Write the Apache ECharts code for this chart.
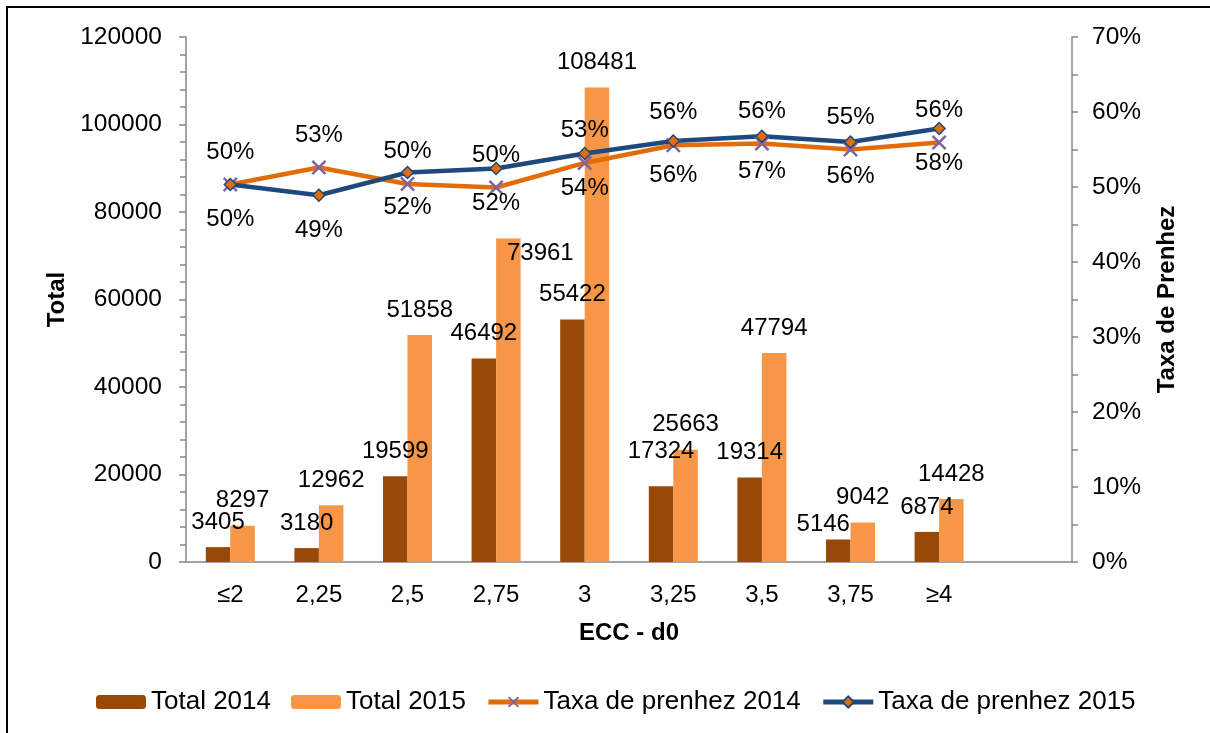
<!DOCTYPE html>
<html>
<head>
<meta charset="utf-8">
<title>ECC - d0</title>
<script src="https://cdn.jsdelivr.net/npm/echarts@6/dist/echarts.min.js"></script>
<style>
  html, body { margin: 0; padding: 0; background: #fff; }
  #main { width: 1210px; height: 733px; }
</style>
</head>
<body>
<div id="main"></div>
<script>
// categorias (a última fica vazia, como no gráfico original)
const categories = ['≤2', '2,25', '2,5', '2,75', '3', '3,25', '3,5', '3,75', '≥4', ''];
const total2014 = [3405, 3180, 19599, 46492, 55422, 17324, 19314, 5146, 6874];
const total2015 = [8297, 12962, 51858, 73961, 108481, 25663, 47794, 9042, 14428];
const taxa2014 = [0.5033, 0.526, 0.504, 0.4993, 0.5321, 0.5557, 0.5579, 0.5500, 0.5593];
const taxa2015 = [0.5033, 0.4890, 0.5193, 0.5246, 0.5446, 0.5614, 0.5677, 0.5600, 0.5780];
const leftTicks = [0, 120000, 20000];
const rightTicks = [0, 0.7, 0.1];

// deslocamentos manuais de alguns rótulos (como no original)
const barLabelNudge = { '0-5': [0, -10], '0-7': [-15, 10], '1-3': [32, 40] };

const font = 'Liberation Sans, Arial, sans-serif';
const axisGray = '#868686';

function barData(values, s) {
  return values.map((v, i) => {
    const n = barLabelNudge[s + '-' + i];
    return n ? { value: v, label: { offset: n } } : v;
  });
}
const pct = v => Math.round(v * 100) + '%';

const chart = echarts.init(document.getElementById('main'));
const option = {
  animation: false,
  backgroundColor: '#fff',
  textStyle: { fontFamily: font, color: '#000' },
  graphic: [{
    type: 'rect', silent: true, z: -10,
    shape: { x: 7, y: 7, width: 1260, height: 780 },
    style: { fill: 'none', stroke: '#000', lineWidth: 2 }
  }],
  grid: { left: 186, right: 138, top: 37, bottom: 171 },
  legend: {
    bottom: 13,
    left: 91,
    itemWidth: 50,
    itemHeight: 14,
    itemGap: 20,
    textStyle: { fontSize: 26, color: '#000', fontFamily: font },
    data: [
      { name: 'Total 2014' },
      { name: 'Total 2015' },
      { name: 'Taxa de prenhez 2014', lineStyle: { width: 5 } },
      { name: 'Taxa de prenhez 2015', lineStyle: { width: 5 } }
    ]
  },
  xAxis: {
    type: 'category',
    data: categories,
    name: 'ECC - d0',
    nameLocation: 'middle',
    nameGap: 59,
    nameTextStyle: { fontSize: 24, fontWeight: 'bold', color: '#000' },
    axisLine: { lineStyle: { color: axisGray, width: 1.5 } },
    axisTick: { length: 7, lineStyle: { color: axisGray, width: 1.5 } },
    axisLabel: { interval: 0, margin: 21, fontSize: 24, color: '#000' }
  },
  yAxis: [{
    type: 'value',
    min: leftTicks[0], max: leftTicks[1], interval: leftTicks[2],
    name: 'Total',
    nameLocation: 'middle',
    nameGap: 115,
    nameTextStyle: { fontSize: 24, fontWeight: 'bold', color: '#000' },
    axisLine: { show: true, lineStyle: { color: axisGray, width: 1.5 } },
    axisTick: { show: true, length: 7, lineStyle: { color: axisGray, width: 1.5 } },
    minorTick: { show: true, splitNumber: 5, length: 6, lineStyle: { color: axisGray, width: 1.5 } },
    splitLine: { show: false },
    axisLabel: { margin: 24, fontSize: 24.5, color: '#000', formatter: v => String(v) }
  }, {
    type: 'value',
    position: 'right',
    min: rightTicks[0], max: rightTicks[1], interval: rightTicks[2],
    name: 'Taxa de Prenhez',
    nameLocation: 'middle',
    nameGap: 83,
    nameTextStyle: { fontSize: 24, fontWeight: 'bold', color: '#000' },
    axisLine: { show: true, lineStyle: { color: axisGray, width: 1.5 } },
    axisTick: { show: true, length: 6, lineStyle: { color: axisGray, width: 1.5 } },
    minorTick: { show: true, splitNumber: 2, length: 6, lineStyle: { color: axisGray, width: 1.5 } },
    splitLine: { show: false },
    axisLabel: { margin: 20, fontSize: 24.5, color: '#000', formatter: pct }
  }],
  series: [
    {
      name: 'Total 2014',
      type: 'bar',
      barWidth: 24.5,
      barGap: '0%',
      itemStyle: { color: '#984807' },
      label: { show: true, position: 'top', distance: 13, fontSize: 24, color: '#000' },
      data: barData(total2014, 0)
    },
    {
      name: 'Total 2015',
      type: 'bar',
      barWidth: 24.5,
      barGap: '0%',
      itemStyle: { color: '#F79646' },
      label: { show: true, position: 'top', distance: 13, fontSize: 24, color: '#000' },
      data: barData(total2015, 1)
    },
    {
      name: 'Taxa de prenhez 2014',
      type: 'line',
      yAxisIndex: 1,
      symbol: 'path://M0,1.2L1.2,0L10,8.8L8.8,10ZM8.8,0L10,1.2L1.2,10L0,8.8Z',
      symbolSize: 15,
      lineStyle: { color: '#E36C09', width: 4.5 },
      itemStyle: { color: '#8064A2' },
      label: { show: true, position: 'top', distance: 13, fontSize: 24, color: '#000', formatter: p => pct(p.value) },
      data: taxa2014
    },
    {
      name: 'Taxa de prenhez 2015',
      type: 'line',
      yAxisIndex: 1,
      symbol: 'diamond',
      symbolSize: 12,
      lineStyle: { color: '#1F497D', width: 4.5 },
      itemStyle: { color: '#E36C09', borderColor: '#1F497D', borderWidth: 1.5 },
      label: { show: true, position: 'bottom', distance: 16, fontSize: 24, color: '#000', formatter: p => pct(p.value) },
      data: taxa2015
    }
  ]
};
chart.setOption(option);
</script>
</body>
</html>
